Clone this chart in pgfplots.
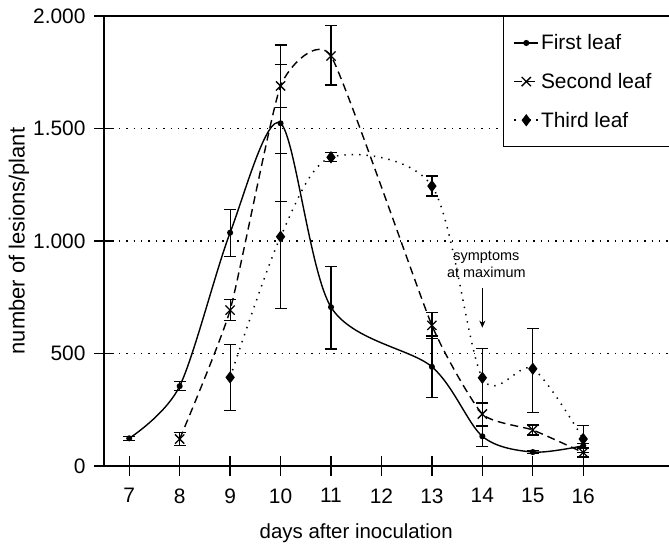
\documentclass[border=0pt]{standalone}
\usepackage{pgfplots}
\pgfplotsset{compat=1.18}
\usepackage{pgfplotstable}
\usepackage{fontspec}
\setmainfont{Liberation Sans}
\usetikzlibrary{arrows.meta}

\pgfplotstableread{
x y ep em
7 123 9 9
8 355 19 19
9 1037 104 107
10 1523 348 348
11 706 180 186
13 441 137 137
14 132 45 45
15 62 6 6
16 90 10 10
}\first

\pgfplotstableread{
x y ep em
8 120 28 28
9 693 48 47
10 1689 96 95
11 1822 134 129
13 625 57 57
14 231 50 50
15 160 22 22
16 60 20 20
}\second

\pgfplotstableread{
x y ep em
9 394 145 148
10 1019 371 318
11 1372 20 20
13 1244 45 44
14 392 130 112
15 432 178 193
16 120 60 60
}\third

\newcommand{\bigf}{\fontsize{21}{25}\selectfont}
\newcommand{\labf}{\fontsize{20.5}{24}\selectfont}

\begin{document}
\begin{tikzpicture}
\begin{axis}[
  scale only axis, width=565bp, height=450bp,
  xmin=6.5, xmax=17.7, ymin=0, ymax=2000,
  axis x line*=box, axis y line*=left,
  axis line style={line width=1.3bp, black},
  xtick={7,8,...,16}, ytick={0,500,1000,1500,2000},
  yticklabels={0,500,1.000,1.500,2.000},
  xtick pos=lower, ytick pos=left,
  tick align=center, major tick length=20bp,
  tick style={line width=1.3bp, black},
  /pgf/number format/assume math mode=true,
  tick label style={font=\bigf},
  xticklabel style={yshift=-9bp},
  yticklabel style={xshift=-5bp},
  ymajorgrids,
  grid style={black, line width=1.5bp, dash pattern=on 1.4bp off 6bp},
  every axis y label/.style={at={(rel axis cs:0,0.5)}, xshift=-85bp, rotate=90, anchor=center, font=\fontsize{22}{26}\selectfont},
  every axis x label/.style={at={(rel axis cs:0.4464,0)}, yshift=-67bp, anchor=center, font=\labf},
  ylabel={number of lesions/plant},
  xlabel={days after inoculation},
  legend style={at={(rel axis cs:0.706,1)}, anchor=north west, draw=black, line width=1.3bp, fill=white,
    font=\bigf, row sep=18bp, inner xsep=10bp, inner ysep=16bp},
  legend cell align=left,
  legend image code/.code={\draw[mark repeat=2,mark phase=2,#1] plot coordinates {(0bp,0bp) (12bp,0bp) (24bp,0bp)};},
  error bars/error bar style={solid, line width=1.2bp, black},
  error bars/error mark options={rotate=90, mark size=6bp, line width=1.2bp, solid, black},
]
\addplot[black, line width=1.4bp, smooth, mark=*, mark size=2.3bp, mark options={solid},
  error bars/.cd, y dir=both, y explicit]
  table[x=x, y=y, y error plus=ep, y error minus=em] {\first};
\addlegendentry{First leaf}
\addplot[black, line width=1.4bp, smooth, tension=0.3, dash pattern=on 8bp off 5bp, mark=x, mark size=6.5bp, mark options={solid, line width=1.3bp},
  error bars/.cd, y dir=both, y explicit]
  table[x=x, y=y, y error plus=ep, y error minus=em] {\second};
\addlegendentry{Second leaf\hspace*{30bp}}
\addplot[black, line width=1.5bp, smooth, dash pattern=on 1.4bp off 6bp, mark=diamond*, mark size=5bp, mark options={solid},
  error bars/.cd, y dir=both, y explicit]
  table[x=x, y=y, y error plus=ep, y error minus=em] {\third};
\addlegendentry{Third leaf}
\node[font=\fontsize{14.5}{17}\selectfont, align=center] at (axis cs:14.08,895) {symptoms\\at maximum};
\draw[line width=1bp, -{Stealth[length=7bp, width=6bp]}] (axis cs:14,790) -- (axis cs:14,615);
\coordinate (bl) at (rel axis cs:0,0);
\coordinate (tr) at (rel axis cs:1,1);
\end{axis}
\pgfresetboundingbox
\path[use as bounding box] ([xshift=-104bp, yshift=-83bp]bl) rectangle ([yshift=16bp]tr);
\end{tikzpicture}
\end{document}
